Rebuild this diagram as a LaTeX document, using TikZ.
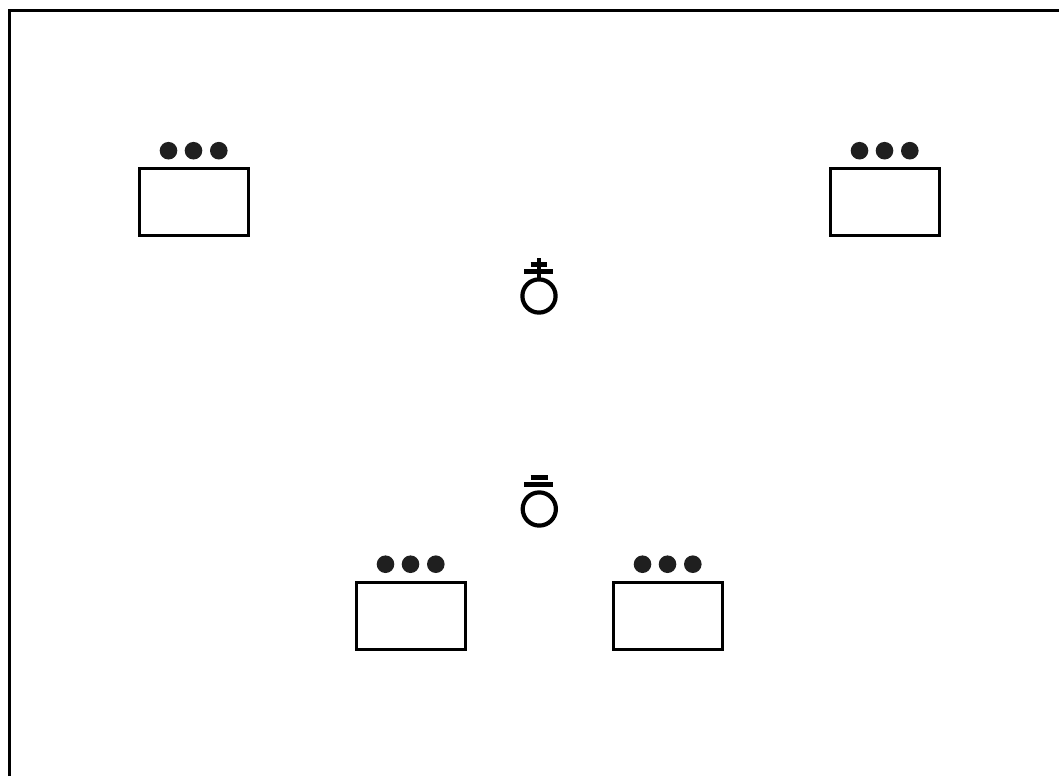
\documentclass[tikz,border=0pt]{standalone}
\tikzset{
  boxnode/.style={draw=black,line width=3pt,fill=white,rectangle,minimum width=109pt,minimum height=67pt,inner sep=0pt,outer sep=0pt},
  dotnode/.style={circle,fill=black!88,draw=none,minimum size=17.6pt,inner sep=0pt,outer sep=0pt},
  ringnode/.style={circle,draw=black,line width=4.2pt,fill=none,minimum size=33.2pt,inner sep=0pt,outer sep=0pt},
  framenode/.style={draw=black,line width=3.6pt},
  barlow/.style={draw=black,line width=5.2pt},
  barhigh/.style={draw=black,line width=4.8pt},
  stemline/.style={draw=black,line width=4.6pt}
}
\newcommand{\boxgroup}[3]{%
  \node[boxnode] (#1) at (#2,#3) {};
  \node[dotnode] (#1a) at (#2-25,#3-51.3) {};
  \node[dotnode] (#1b) at (#2,#3-51.3) {};
  \node[dotnode] (#1c) at (#2+25.3,#3-51.3) {};
}
\begin{document}
\begin{tikzpicture}[x=1pt,y=-1pt]
\useasboundingbox (0,0) rectangle (1059,776);
\coordinate (fa) at (9.5,776);
\coordinate (fb) at (9.5,10.5);
\coordinate (fc) at (1059,10.5);
\draw[framenode,line join=miter] (fa) -- (fb) -- (fc);
\boxgroup{tl}{193.5}{202}
\boxgroup{tr}{884.5}{202}
\boxgroup{bl}{410.5}{615.5}
\boxgroup{br}{667.5}{615.5}
% upper symbol
\node[ringnode] (ringa) at (539,296) {};
\coordinate (stemtop) at (539,258);
\coordinate (lowa) at (524.3,271.3);
\coordinate (lowb) at (553.3,271.3);
\coordinate (higha) at (530.7,264.3);
\coordinate (highb) at (547.3,264.3);
\draw[stemline] (stemtop) -- (ringa.north);
\draw[barlow] (lowa) -- (lowb);
\draw[barhigh] (higha) -- (highb);
% lower symbol
\node[ringnode] (ringb) at (539.3,509) {};
\coordinate (lowc) at (524.3,484.2);
\coordinate (lowd) at (553.3,484.2);
\coordinate (highc) at (530.7,477.6);
\coordinate (highd) at (548,477.6);
\draw[barlow] (lowc) -- (lowd);
\draw[barhigh] (highc) -- (highd);
\end{tikzpicture}
\end{document}
